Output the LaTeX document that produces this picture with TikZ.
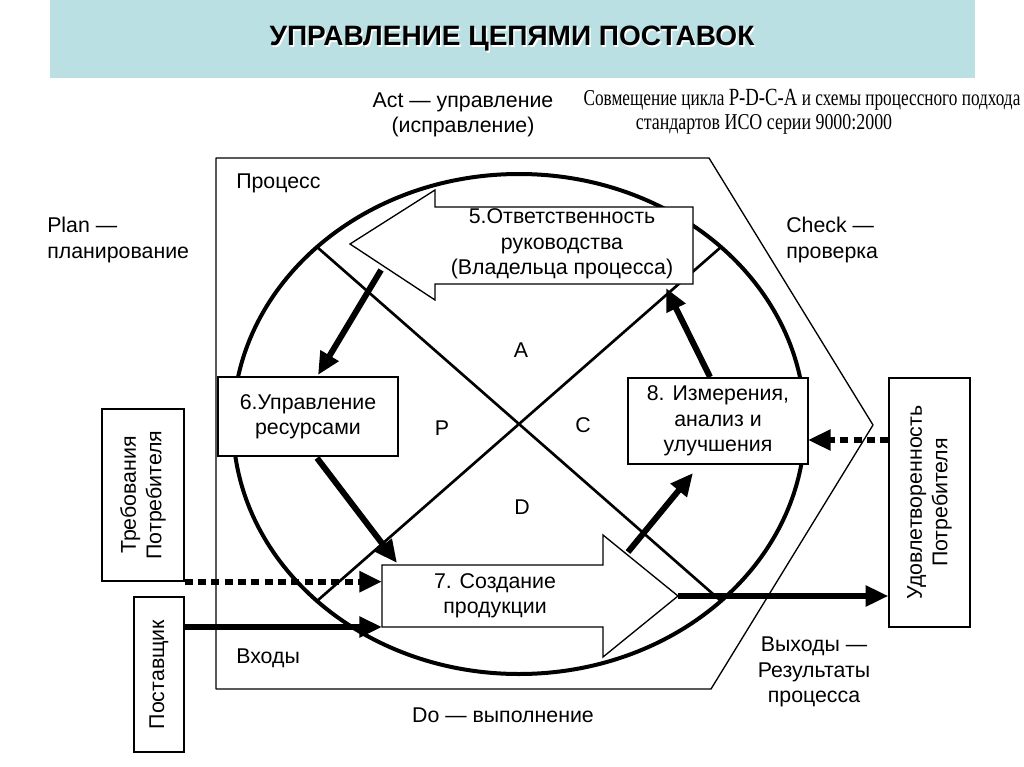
\documentclass[tikz,border=0pt]{standalone}
\usepackage{fontspec}
\setmainfont{Liberation Sans}
\newfontfamily\capfont{Liberation Serif}
\usepackage{tkz-euclide}
\usetikzlibrary{arrows.meta}
\definecolor{bandblue}{RGB}{187,224,227}
\tikzset{
    lbl/.style={font=\fontsize{16}{19}\selectfont,align=center,inner sep=0pt},
    box/.style={lbl,draw,line width=1pt,fill=white},
    frame/.style={draw,line width=1pt,fill=white},
    captext/.style={font=\capfont\fontsize{17}{17}\selectfont,inner sep=0pt},
    thick arrow/.style={line width=4.5pt,-{Triangle[length=17pt,width=15pt]}},
    dash arrow/.style={thick arrow,dash pattern=on 6pt off 4pt},
}

\begin{document}
\begin{tikzpicture}[x=0.75pt,y=-0.75pt]
            \useasboundingbox (0,0) rectangle (1024,767);
            \fill[bandblue] (50,0) rectangle (975,78);
            \node[font=\fontsize{21}{25}\selectfont\bfseries,text=white] (T0) at (513.5,40.5) {УПРАВЛЕНИЕ ЦЕПЯМИ ПОСТАВОК};
            \node[font=\fontsize{21}{25}\selectfont\bfseries] (T) at (512,39) {УПРАВЛЕНИЕ ЦЕПЯМИ ПОСТАВОК};

            \tkzDefPoint(216,158){P1}
            \tkzDefPoint(709,158){P2}
            \tkzDefPoint(873,425){P3}
            \tkzDefPoint(711,689){P4}
            \tkzDefPoint(216,689){P5}
            \tkzDrawPolygon[line width=1pt](P1,P2,P3,P4,P5)

            \tkzDefPoint(519,424){O}
            \draw[line width=3pt] (O) ellipse [x radius=214.5pt, y radius=187.5pt];

            \tkzDefPoint(317,247){X1}
            \tkzDefPoint(721,601){X2}
            \tkzDefPoint(317,601){X3}
            \tkzDefPoint(721,247){X4}
            \tkzDrawSegment[line width=2pt](X1,X2)
            \tkzDrawSegment[line width=2pt](X3,X4)

            \node[lbl] (A) at (521,350) {A};
            \node[lbl] (P) at (442,428) {P};
            \node[lbl] (C) at (583,425) {C};
            \node[lbl] (D) at (522,507) {D};

            \tkzDefPoint(350,244){F1}
            \tkzDefPoint(435,190){F2}
            \tkzDefPoint(435,207){F3}
            \tkzDefPoint(693,207){F4}
            \tkzDefPoint(693,284){F5}
            \tkzDefPoint(435,284){F6}
            \tkzDefPoint(435,300){F7}
            \draw[frame] (F1) -- (F2) -- (F3) -- (F4) -- (F5) -- (F6) -- (F7) -- cycle;
            \node[lbl] (B5) at (562,244) {5.Ответственность\\руководства\\(Владельца процесса)};

            \tkzDefPoint(382,565){G1}
            \tkzDefPoint(603,565){G2}
            \tkzDefPoint(603,535){G3}
            \tkzDefPoint(678,596){G4}
            \tkzDefPoint(603,657){G5}
            \tkzDefPoint(603,627){G6}
            \tkzDefPoint(382,627){G7}
            \draw[frame] (G1) -- (G2) -- (G3) -- (G4) -- (G5) -- (G6) -- (G7) -- cycle;
            \node[lbl] (B7) at (495,596) {7. Создание\\продукции};

            \node[box,minimum width=135pt,minimum height=59.25pt] (B6) at (308,416.5) {6.Управление\\ресурсами};
            \node[box,minimum width=135pt,minimum height=64.5pt] (B8) at (718,421) {8. Измерения,\\анализ и\\улучшения};

            \node[box,rotate=90,minimum width=129pt,minimum height=61.5pt] (Treb) at (143,495) {Требования\\Потребителя};
            \node[box,rotate=90,minimum width=116.25pt,minimum height=37.5pt] (Post) at (159,674.5) {Поставщик};
            \node[box,rotate=90,minimum width=186.75pt,minimum height=60.75pt] (Udov) at (929.5,502.5) {Удовлетворенность\\Потребителя};

            \tkzDefPoint(381,270){S5}
            \tkzDefPoint(318,375){E6}
            \tkzDefPoint(317,458){S6}
            \tkzDefPoint(397,563){E7}
            \tkzDefPoint(628,552){S7}
            \tkzDefPoint(693,473){E8}
            \tkzDefPoint(710,377){S8}
            \tkzDefPoint(666,288){E5}
            \draw[thick arrow] (S5) -- (E6);
            \draw[thick arrow] (S6) -- (E7);
            \draw[thick arrow] (S7) -- (E8);
            \draw[thick arrow] (S8) -- (E5);

            \tkzDefPoint(808,440){I8}
            \draw[dash arrow] (Treb.south west) -- (Treb.south west -| G1);
            \draw[thick arrow,line width=4pt] (Post.south |- G7) -- (G7);
            \draw[thick arrow,line width=4pt] (G4) -- (Udov.north |- G4);
            \draw[dash arrow] (Udov.north |- I8) -- (I8);

            \node[lbl,anchor=west] (L1) at (236,183) {Процесс};
            \node[lbl,anchor=west,align=left] (L2) at (47,240) {Plan —\\планирование};
            \node[lbl] (L3) at (463,115) {Act — управление\\(исправление)};
            \node[lbl,anchor=west,align=left] (L4) at (786,240) {Check —\\проверка};
            \node[lbl] (L5) at (814,672) {Выходы —\\Результаты\\процесса};
            \node[lbl,anchor=west] (L6) at (236,658) {Входы};
            \node[lbl] (L7) at (503,715) {Do — выполнение};
            \node[captext] (K1) at (802,100) {\scalebox{0.76}[1]{Совмещение цикла {\fontsize{18.5}{18.5}\selectfont Р-D-С-А} и схемы процессного подхода}};
            \node[captext] (K2) at (764,124) {\scalebox{0.79}[1]{стандартов ИСО серии 9000:2000}};
\end{tikzpicture}
\end{document}
